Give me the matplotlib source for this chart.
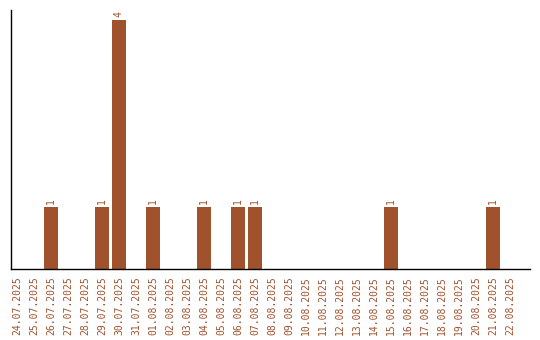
import matplotlib
matplotlib.use("Agg")
import matplotlib.pyplot as plt

BROWN = "#a0522d"

dates = [f"{d:02d}.07.2025" for d in range(24, 32)] + [f"{d:02d}.08.2025" for d in range(1, 23)]
counts = [0, 0, 1, 0, 0, 1, 4, 0, 1, 0, 0, 1, 0, 1, 1,
          0, 0, 0, 0, 0, 0, 0, 1, 0, 0, 0, 0, 0, 1, 0]

fig = plt.figure(figsize=(5.4, 3.4), dpi=100)
ax = fig.add_axes([11 / 540, 1 - 269 / 340, 519 / 540, 259 / 340])

x = list(range(len(dates)))
ax.bar(x, counts, width=14 / 17, color=BROWN)
for xi, c in zip(x, counts):
    if c:
        ax.text(xi, c + 0.05, str(c), rotation=90, ha="center", va="bottom",
                fontsize=7, color=BROWN, family="DejaVu Sans Mono")

ax.set_xlim(-0.35, 30.18)
ax.set_ylim(0, 4.16)
ax.set_xticks(x)
ax.set_xticklabels(dates, rotation=90, fontsize=7, color=BROWN, family="DejaVu Sans Mono")
ax.tick_params(axis="x", length=0, pad=5)
ax.set_yticks([])
for s in ("top", "right"):
    ax.spines[s].set_visible(False)
for s in ("left", "bottom"):
    ax.spines[s].set_linewidth(1.0)

fig.savefig("out.png", dpi=100)
